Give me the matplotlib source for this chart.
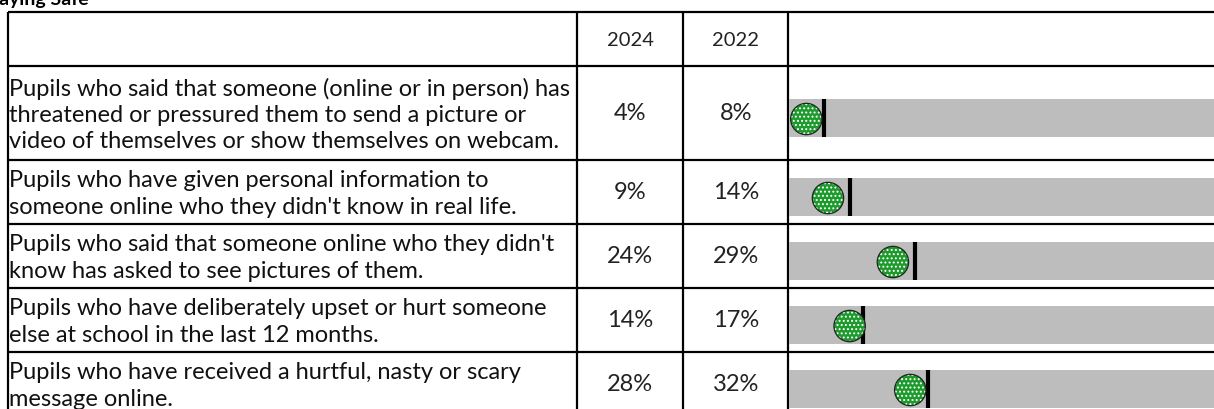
"""
Staying Safe - table with dot/marker bars (2024 vs 2022)
"""

import matplotlib
matplotlib.use("Agg")
import matplotlib.pyplot as plt

# Data
questions = [
    "Pupils who said that someone (online or in person) has\nthreatened or pressured them to send a picture or\nvideo of themselves or show themselves on webcam.",
    "Pupils who have given personal information to\nsomeone online who they didn't know in real life.",
    "Pupils who said that someone online who they didn't\nknow has asked to see pictures of them.",
    "Pupils who have deliberately upset or hurt someone\nelse at school in the last 12 months.",
    "Pupils who have received a hurtful, nasty or scary\nmessage online.",
]
vals_2024 = [4, 9, 24, 14, 28]
vals_2022 = [8, 14, 29, 17, 32]
years = ["2024", "2022"]
title = "Staying Safe"

# Layout (pixels)
W, H = 1214, 410
COL_X = [8.3, 576.7, 683.3, 788.3]     # column edges
TOP = 13
HEADER_H = 54
ROW_H = [94, 64, 64, 64, 64]
BAR_H = 38
BAR_LEFT, BAR_RIGHT = 789, 1222      # 0% .. 100%

GREY = "#bdbdbd"
GREEN = "#1c9a2c"
FONT = "Lato"

plt.rcParams["font.family"] = [FONT, "DejaVu Sans"]
plt.rcParams["hatch.color"] = "white"
plt.rcParams["hatch.linewidth"] = 0.9

fig = plt.figure(figsize=(W / 100, H / 100), dpi=100)

# background axes in pixel coords for the table grid and text
bg = fig.add_axes([0, 0, 1, 1])
bg.set_xlim(0, W)
bg.set_ylim(H, 0)
bg.axis("off")

# row edges
edges = [TOP, TOP + HEADER_H]
for h in ROW_H:
    edges.append(edges[-1] + h)

lw = 1.6
bg.hlines(edges, COL_X[0], W, color="black", lw=lw)
bg.vlines(COL_X, TOP, edges[-1], color="black", lw=lw)

# title (partly cut off at top-left, as in the source)
bg.text(-19, 5, title, fontsize=14, fontweight="bold", ha="left",
        va="baseline")

# header
col_centers = [(COL_X[1] + COL_X[2]) / 2, (COL_X[2] + COL_X[3]) / 2]
hy = TOP + HEADER_H / 2
for cx, yr in zip(col_centers, years):
    bg.text(cx, hy, yr, ha="center", va="center", fontsize=14.5, color="#222222")

for i, q in enumerate(questions):
    top = edges[i + 1]
    h = ROW_H[i]
    cy = top + h / 2
    bg.text(COL_X[0] + 1, cy + 1, q, ha="left", va="center", fontsize=17,
            linespacing=1.3, color="#111111")
    bg.text(col_centers[0], cy, f"{vals_2024[i]}%", ha="center", va="center",
            fontsize=17, color="#222222")
    bg.text(col_centers[1], cy, f"{vals_2022[i]}%", ha="center", va="center",
            fontsize=17, color="#222222")

    # bar axes for this row (0-100 %)
    bar_top = cy + 4.5 - BAR_H / 2
    ax = fig.add_axes([BAR_LEFT / W, 1 - (bar_top + BAR_H) / H,
                       (BAR_RIGHT - BAR_LEFT) / W, BAR_H / H])
    ax.set_xlim(0, 100)
    ax.set_ylim(0, 1)
    ax.axis("off")
    ax.barh(0.5, 100, height=1, color=GREY, lw=0)
    ax.axvline(vals_2022[i], color="black", lw=3, zorder=3)
    ax.scatter([vals_2024[i]], [0.46], s=510, color=GREEN, hatch="....",
               edgecolors="none", zorder=4, clip_on=False)
    ax.scatter([vals_2024[i]], [0.46], s=510, facecolors="none",
               edgecolors="#222222", linewidths=0.9, zorder=5, clip_on=False)

fig.savefig("out.png", dpi=100)
